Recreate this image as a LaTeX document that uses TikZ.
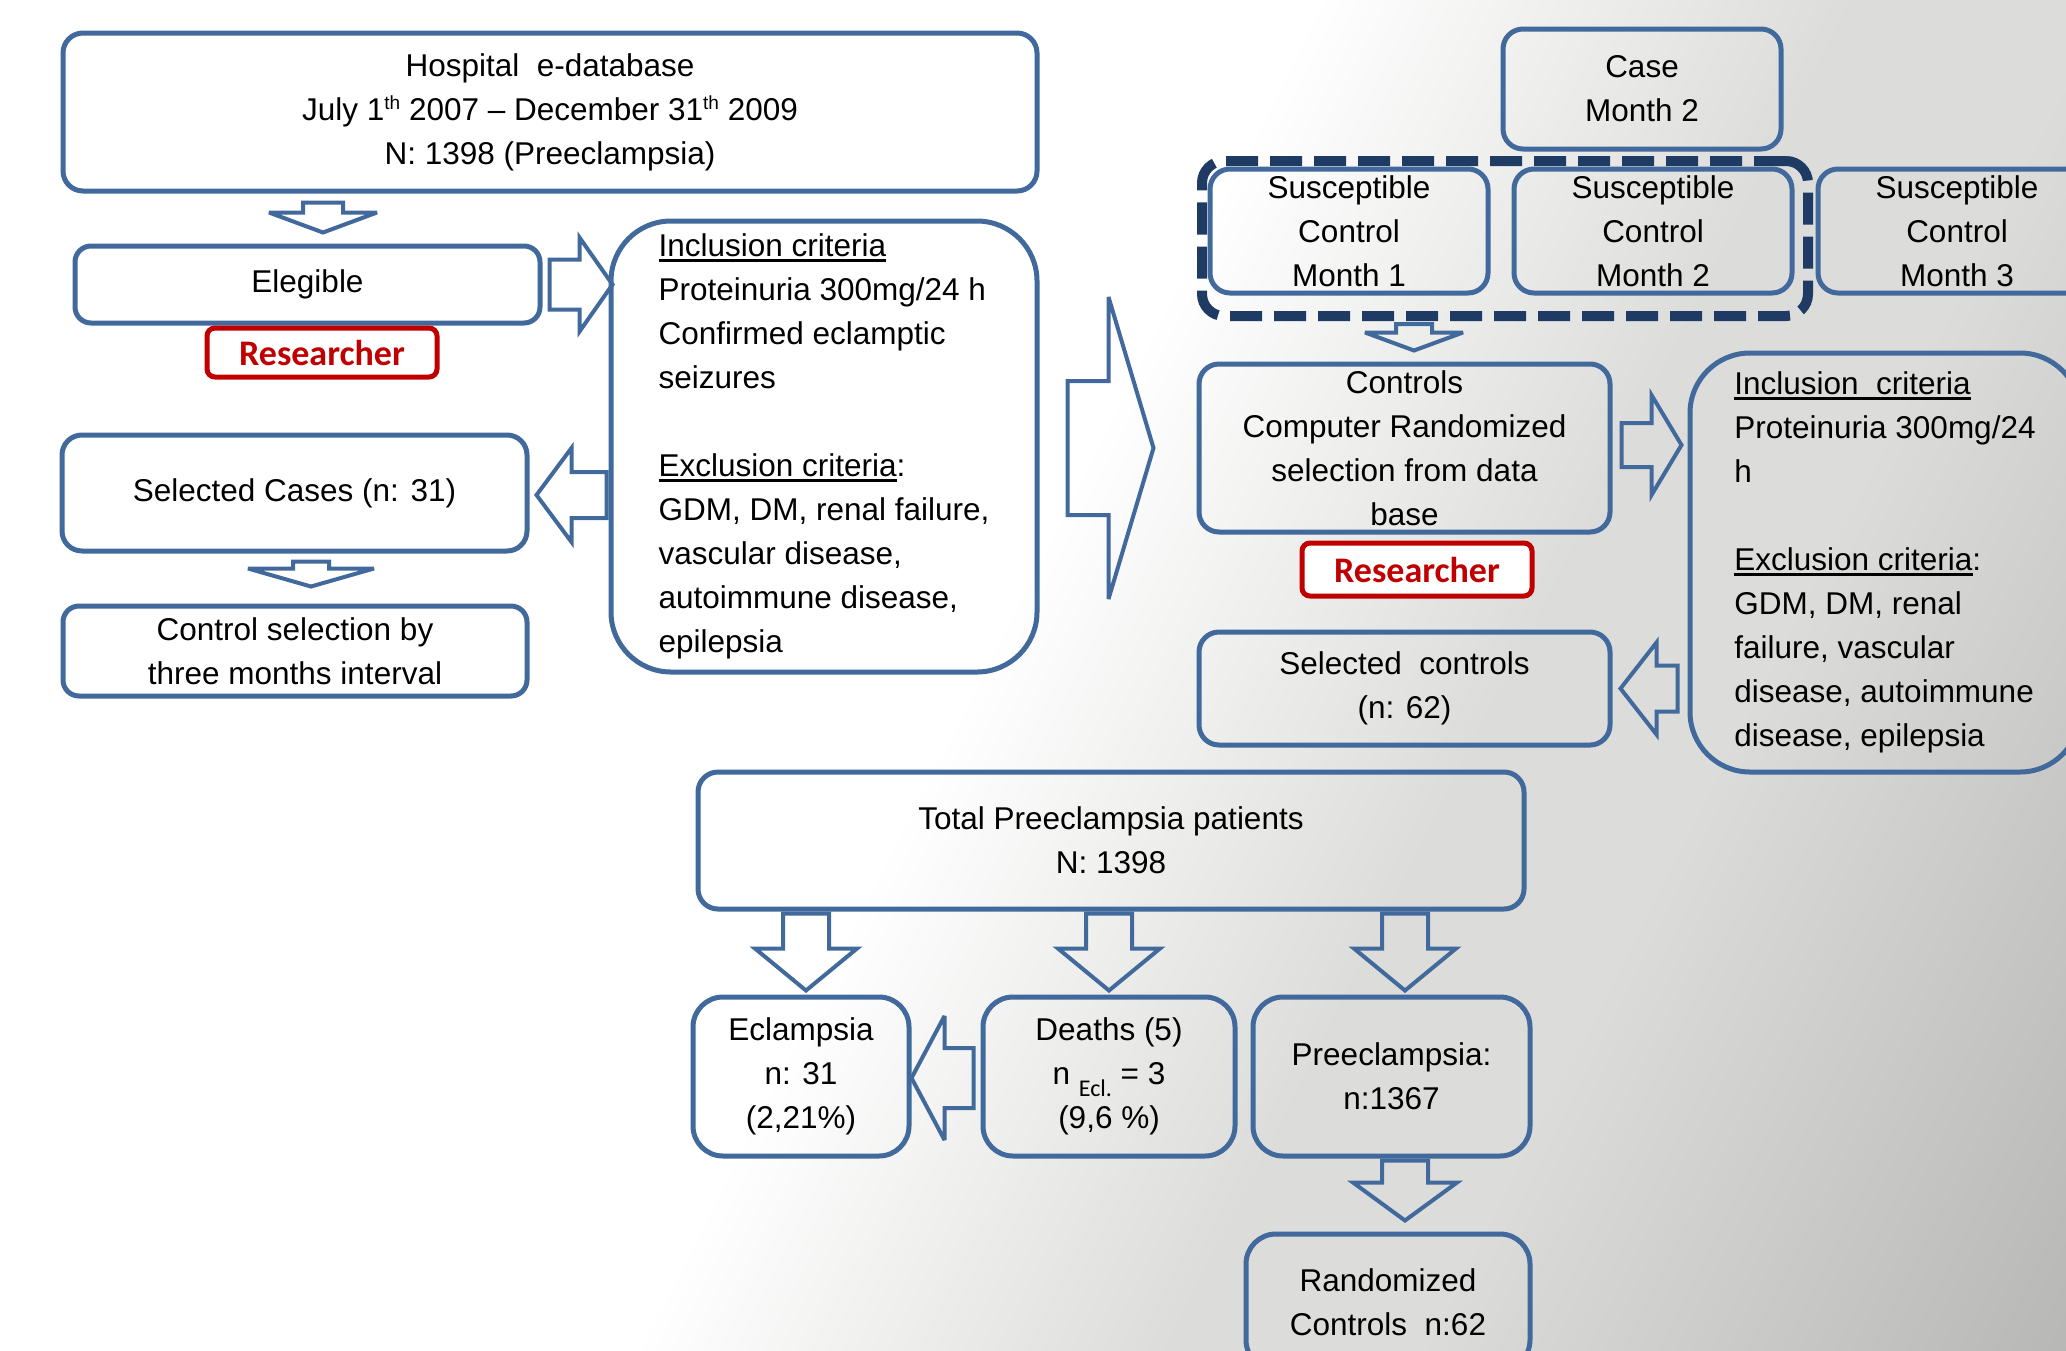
\documentclass[tikz,border=0pt]{standalone}
\usepackage{fontspec}
\setmainfont{Liberation Sans}
\newfontfamily\calib{Carlito}
\usetikzlibrary{calc}
\definecolor{boxblue}{HTML}{41699C}
\definecolor{dashblue}{HTML}{1F3B64}
\definecolor{resred}{HTML}{C00000}
\definecolor{bgmid}{HTML}{DCDCDA}
\definecolor{bgend}{HTML}{B6B6B4}
\newcommand{\mainfs}{\fontsize{31.5}{44}\selectfont}
\newcommand{\ulx}[1]{\leavevmode\setbox0=\hbox{#1}\rlap{\rule[-5pt]{\wd0}{2.5pt}}\box0}
\newcommand{\supth}{\raisebox{11pt}{\fontsize{19}{19}\selectfont th}}
% #1 tail, #2 tip, #3 shaft half width, #4 head half width, #5 head length
\newcommand{\blockarrow}[5]{%
  \coordinate (BAt) at (#1);
  \coordinate (BAp) at (#2);
  \coordinate (BAh) at ($(BAp)!#5!(BAt)$);
  \draw[barrow] ($(BAt)!#3!90:(BAp)$) -- ($(BAh)!#3!90:(BAp)$) -- ($(BAh)!#4!90:(BAp)$)
    -- (BAp) -- ($(BAh)!#4!-90:(BAp)$) -- ($(BAh)!#3!-90:(BAp)$) -- ($(BAt)!#3!-90:(BAp)$) -- cycle;
}
\begin{document}
\begin{tikzpicture}[x=1pt,y=-1pt,
  box/.style={draw=boxblue, line width=5pt, rounded corners=20pt, inner sep=0pt, align=center, font=\mainfs},
  bigbox/.style={box, rounded corners=60pt, align=left},
  resbox/.style={draw=resred, fill=white, line width=5pt, rounded corners=8pt, inner sep=0pt, text=resred, font=\calib\bfseries\fontsize{36}{36}\selectfont},
  dashbox/.style={draw=dashblue, line width=10pt, dash pattern=on 32pt off 12pt, rounded corners=22pt, inner sep=0pt},
  barrow/.style={draw=boxblue, line width=4pt, line join=miter, miter limit=4}]
\useasboundingbox (0,0) rectangle (2066,1350);
\begin{scope}
\clip (0,0) rectangle (2066,1350);
% background
\fill[white] (0,0) rectangle (2066,1350);
\begin{scope}[transform canvas={shift={(975pt,-675pt)}, rotate=-26.9}]
  \shade[left color=white, right color=bgmid] (0,-3000) rectangle (480,3000);
  \fill[bgmid] (479,-3000) rectangle (701,3000);
  \shade[left color=bgmid, right color=bgend] (700,-3000) rectangle (1300,3000);
  \fill[bgend] (1299,-3000) rectangle (3000,3000);
\end{scope}

% left column
\node[box, minimum width=974pt, minimum height=158pt] (hosp) at (550,112)
  {Hospital\ \ e-database\\July 1\supth{} 2007 -- December 31\supth{} 2009\\N: 1398 (Preeclampsia)};
\node[box, rounded corners=16pt, minimum width=465pt, minimum height=77pt] (eleg) at (307.5,284.5) {Elegible};
\node[resbox, minimum width=230pt, minimum height=49pt] (res1) at (322,352.5) {Researcher};
\node[box, minimum width=465pt, minimum height=116pt] (selc) at (294.5,493) {Selected Cases (n: 31)};
\node[box, rounded corners=16pt, minimum width=464pt, minimum height=90pt] (ctrlsel) at (295,651)
  {Control selection by\\three months interval};
\node[bigbox, minimum width=426pt, minimum height=451pt] (incl) at (824,446.5)
  {\ulx{Inclusion criteria}\\Proteinuria 300mg/24 h\\Confirmed eclamptic\\seizures\\[44pt]
   \ulx{Exclusion criteria}:\\GDM, DM, renal failure,\\vascular disease,\\autoimmune disease,\\epilepsia};

% right column
\node[box, minimum width=278pt, minimum height=120pt] (case) at (1642,89) {Case\\Month 2};
\node[dashbox, minimum width=606pt, minimum height=155pt] (dash) at (1505,238.5) {};
\node[box, minimum width=278pt, minimum height=124pt] (sus1) at (1349,231) {Susceptible\\Control\\Month 1};
\node[box, minimum width=278pt, minimum height=124pt] (sus2) at (1653,231) {Susceptible\\Control\\Month 2};
\node[box, minimum width=278pt, minimum height=124pt] (sus3) at (1957,231) {Susceptible\\Control\\Month 3};
\node[box, minimum width=411pt, minimum height=168pt] (ctrls) at (1404.5,448)
  {Controls\\Computer Randomized\\selection from data\\base};
\node[resbox, minimum width=230pt, minimum height=53pt] (res2) at (1417,569.5) {Researcher};
\node[box, minimum width=411pt, minimum height=113pt] (selctrl) at (1404.5,688.5) {Selected\ \ controls\\(n: 62)};
\node[bigbox, minimum width=390pt, minimum height=419pt] (incl2) at (1885,562.5)
  {\ulx{Inclusion\ \ criteria}\\Proteinuria 300mg/24\\h\\[44pt]
   \ulx{Exclusion criteria}:\\GDM, DM, renal\\failure, vascular\\disease, autoimmune\\disease, epilepsia};

% bottom
\node[box, minimum width=826pt, minimum height=137pt] (total) at (1111,840.5) {Total Preeclampsia patients\\N: 1398};
\node[box, rounded corners=30pt, minimum width=216pt, minimum height=159pt] (ecl) at (801,1076.5) {Eclampsia\\n: 31\\(2,21\%)};
\node[box, rounded corners=30pt, minimum width=252pt, minimum height=159pt] (deaths) at (1109,1076.5)
  {Deaths (5)\\n \raisebox{-12pt}{\calib\fontsize{24}{24}\selectfont Ecl.} = 3\\(9,6 \%)};
\node[box, rounded corners=30pt, minimum width=277pt, minimum height=159pt] (pre) at (1391.5,1076.5) {Preeclampsia:\\n:1367};
\node[box, rounded corners=30pt, minimum width=284pt, minimum height=136pt] (rand) at (1388,1302) {Randomized\\Controls\ \ n:62};

% block arrows
\blockarrow{$(hosp.south -| eleg.north)+(15.5,9)$}{$(eleg.north)+(15.5,-11)$}{20pt}{54pt}{20pt}
\blockarrow{$(eleg.east)+(7,0)$}{$(eleg.east -| incl.west)+(4,0)$}{25pt}{47pt}{33pt}
\blockarrow{$(selc.east -| incl.west)+(-2,2)$}{$(selc.east)+(7,2)$}{23pt}{47pt}{35pt}
\blockarrow{$(selc.south)+(16.5,8)$}{$(ctrlsel.north)+(16,-17)$}{18pt}{63pt}{18pt}
\blockarrow{$(incl.east)+(28,1.5)$}{$(ctrls.west)+(-43,0)$}{67pt}{151pt}{45pt}
\blockarrow{$(ctrls.north |- dash.south)+(9.5,3)$}{$(ctrls.north)+(9.5,-11)$}{18pt}{49pt}{18pt}
\blockarrow{$(ctrls.east)+(9,-3)$}{$(ctrls.east -| incl2.west)+(-6,-3)$}{22pt}{50pt}{30pt}
\blockarrow{$(selctrl.east -| incl2.west)+(-10,0)$}{$(selctrl.east)+(8,0)$}{23pt}{46pt}{36pt}
\blockarrow{$(total.south -| ecl.north)+(5,2)$}{$(ecl.north)+(5,-4)$}{23pt}{51pt}{42pt}
\blockarrow{$(total.south -| deaths.north)+(0,2)$}{$(deaths.north)+(0,-4)$}{23pt}{51pt}{42pt}
\blockarrow{$(total.south -| pre.north)+(13.5,2)$}{$(pre.north)+(13.5,-4)$}{23pt}{51pt}{42pt}
\blockarrow{$(deaths.west)+(-7,1.5)$}{$(ecl.east)+(0,1.5)$}{30pt}{62pt}{33pt}
\blockarrow{$(pre.south)+(13.5,2)$}{$(rand.north)+(17,-11)$}{23pt}{52pt}{38pt}
\end{scope}
\end{tikzpicture}
\end{document}
